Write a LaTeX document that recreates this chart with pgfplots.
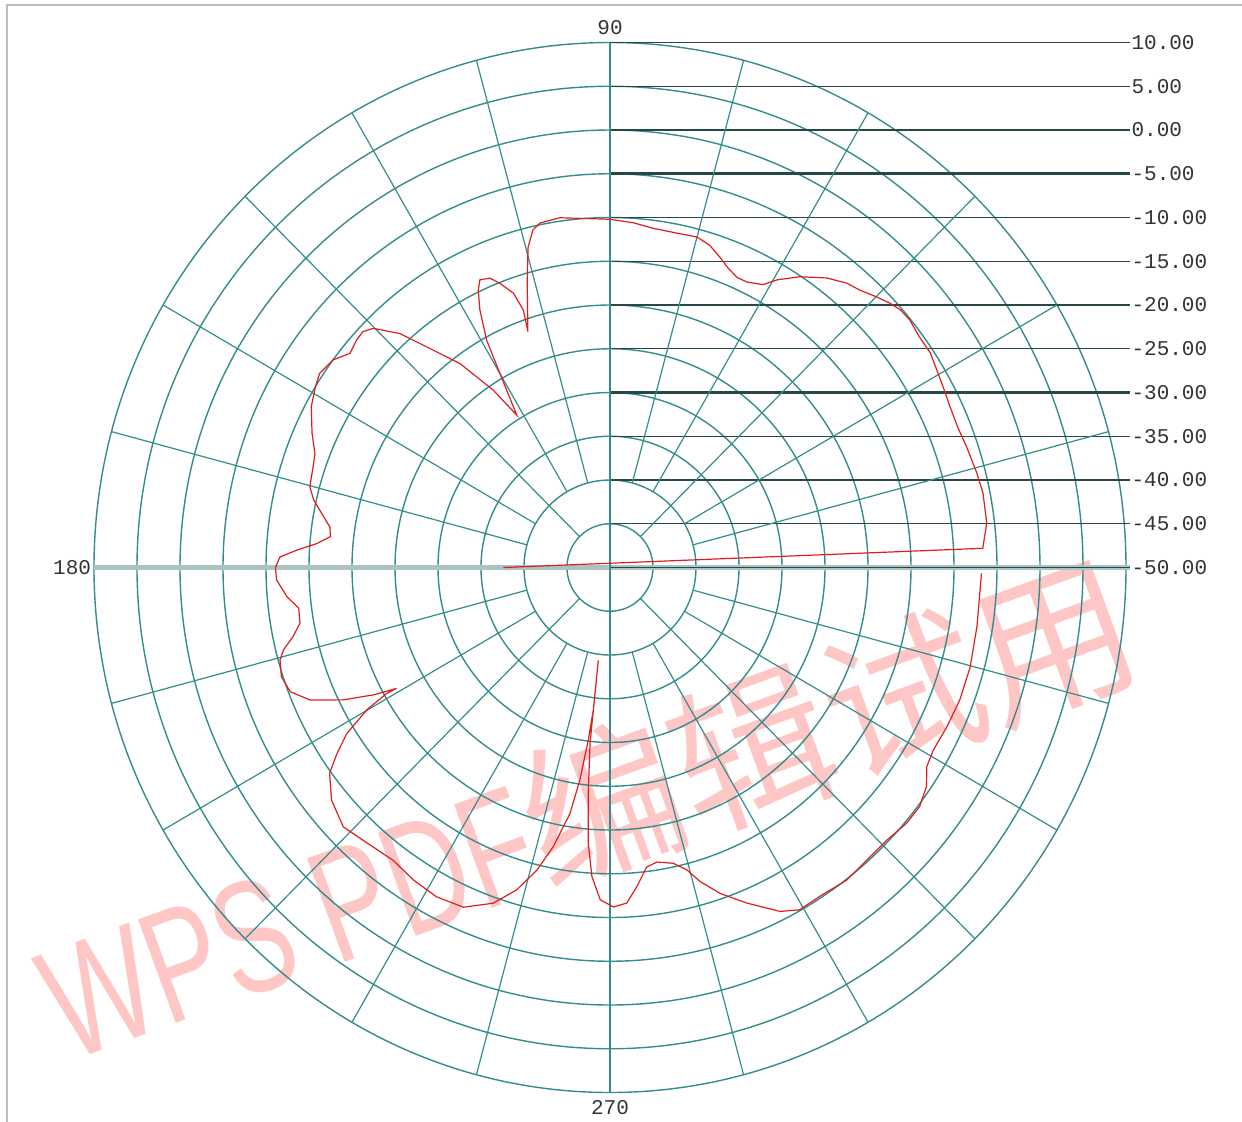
\documentclass[border=0pt]{standalone}
\usepackage{pgfplots}
\pgfplotsset{compat=1.18}
\usepackage{pgfplotstable}
\usepackage{graphicx}
\usepackage{fontspec}
\setmainfont{Liberation Sans}
\newfontfamily\cjk{Noto Sans CJK SC}
\newfontfamily\lblfont{Liberation Mono}
\protected\def\lf{\lblfont\fontsize{10.5bp}{12bp}\selectfont}
\protected\def\wmfont{\fontsize{80bp}{80bp}\selectfont}

\definecolor{gridc}{RGB}{52,140,140}
\definecolor{refc}{RGB}{40,72,72}
\definecolor{axc}{RGB}{170,196,196}
\definecolor{curvec}{RGB}{222,30,30}
\definecolor{wm}{RGB}{255,198,198}
\definecolor{framec}{RGB}{190,190,190}

\tikzset{
  lbl/.style={anchor=west, inner sep=0pt, text=black!80, font=\lf},
  lvl/.style={refc, line width=0.6bp},
}

% pattern: angle (deg), level (dB)
\pgfplotstableread{
angle dB
180.0 -37.6
2.9 -6.6
6.6 -5.9
11.1 -5.8
14.2 -6.0
18.4 -6.3
21.6 -6.5
24.9 -6.4
28.1 -6.1
30.7 -5.8
33.4 -5.4
36.2 -5.4
39.1 -5.1
41.1 -5.2
42.9 -5.6
44.9 -6.2
47.5 -7.0
49.7 -7.4
52.7 -8.4
56.4 -10.1
59.4 -11.8
61.2 -13.1
64.0 -13.7
66.0 -13.7
68.2 -13.1
70.2 -12.3
72.5 -11.4
75.0 -10.9
78.5 -11.0
82.7 -10.9
86.1 -10.5
90.0 -10.2
98.3 -9.6
101.7 -9.8
103.1 -10.4
104.6 -12.2
106.5 -16.1
109.5 -21.4
108.9 -18.9
109.7 -16.7
111.5 -15.1
112.9 -14.1
114.7 -13.8
115.8 -14.8
117.2 -16.9
118.9 -20.3
120.0 -24.4
121.9 -29.5
123.8 -25.6
126.8 -20.9
130.2 -17.0
132.4 -13.8
135.2 -11.2
136.8 -10.6
138.6 -10.7
141.0 -11.1
143.6 -10.0
146.7 -9.6
148.9 -10.0
152.1 -10.7
156.1 -12.1
159.2 -13.3
161.5 -13.6
165.2 -13.9
167.4 -14.7
170.1 -16.2
171.9 -17.1
173.8 -17.3
175.4 -15.8
176.9 -13.5
178.2 -11.6
180.0 -11.1
182.1 -11.2
185.1 -12.3
187.3 -13.5
190.0 -13.4
192.1 -12.3
193.9 -10.9
195.4 -10.2
198.1 -9.8
200.9 -10.2
203.5 -12.0
206.0 -15.5
207.9 -18.9
209.1 -21.6
209.0 -20.3
209.9 -17.4
211.8 -14.0
213.8 -11.8
215.8 -9.8
219.4 -8.1
223.7 -7.1
228.1 -7.7
233.0 -8.1
237.4 -7.6
241.8 -7.3
246.3 -7.6
250.5 -9.3
253.6 -11.6
256.2 -14.4
258.3 -17.4
260.6 -21.5
261.8 -25.5
262.7 -30.1
263.2 -33.6
262.7 -39.3
263.1 -35.6
263.4 -29.8
264.4 -24.1
265.4 -18.4
266.6 -14.6
268.3 -12.0
270.6 -11.2
272.9 -11.6
274.9 -13.4
277.1 -15.5
279.2 -15.9
282.3 -15.4
284.5 -14.3
286.3 -12.6
289.0 -10.6
292.5 -8.5
296.7 -6.0
299.4 -5.1
303.0 -5.2
307.6 -4.9
313.2 -5.2
315.9 -5.2
319.7 -4.8
322.8 -4.8
325.8 -5.5
328.3 -6.7
331.0 -7.0
335.1 -6.8
339.6 -6.6
344.8 -6.6
351.0 -6.8
356.1 -6.9
359.1 -6.8
}\patterndata

\begin{document}
\begin{tikzpicture}
\begin{axis}[
    x=4.3bp, y=4.375bp,
    xmin=-70.93, xmax=73.49,
    ymin=-63.37, ymax=64.86,
    hide axis, clip=false,
]
% watermark
\node[text=wm, rotate=20, inner sep=0pt, font=\wmfont]
    at (axis cs:-2.6,-27.6) {\scalebox{0.7}[1]{WPS PDF}{\cjk 编辑试用}};

% frame
\draw[framec, line width=1bp] (axis cs:-70.12,-63.37) -- (axis cs:-70.12,64.29) -- (axis cs:73.49,64.29);

% labels
\node[lbl] at (axis cs:60.6,60) {10.00};
\node[lbl] at (axis cs:60.6,55) {5.00};
\node[lbl] at (axis cs:60.6,50) {0.00};
\node[lbl] at (axis cs:60.6,45) {-5.00};
\node[lbl] at (axis cs:60.6,40) {-10.00};
\node[lbl] at (axis cs:60.6,35) {-15.00};
\node[lbl] at (axis cs:60.6,30) {-20.00};
\node[lbl] at (axis cs:60.6,25) {-25.00};
\node[lbl] at (axis cs:60.6,20) {-30.00};
\node[lbl] at (axis cs:60.6,15) {-35.00};
\node[lbl] at (axis cs:60.6,10) {-40.00};
\node[lbl] at (axis cs:60.6,5) {-45.00};
\node[lbl] at (axis cs:60.6,0) {-50.00};
\node[lbl, anchor=south] at (axis cs:0,60.9) {90};
\node[lbl, anchor=east] at (axis cs:-60.3,0) {180};
\node[lbl, anchor=north] at (axis cs:0,-60.9) {270};

% rings
\draw[gridc, line width=0.7bp] (axis cs:0,0) ellipse [x radius=5, y radius=5];
\draw[gridc, line width=0.7bp] (axis cs:0,0) ellipse [x radius=10, y radius=10];
\draw[gridc, line width=0.7bp] (axis cs:0,0) ellipse [x radius=15, y radius=15];
\draw[gridc, line width=0.7bp] (axis cs:0,0) ellipse [x radius=20, y radius=20];
\draw[gridc, line width=0.7bp] (axis cs:0,0) ellipse [x radius=25, y radius=25];
\draw[gridc, line width=0.7bp] (axis cs:0,0) ellipse [x radius=30, y radius=30];
\draw[gridc, line width=0.7bp] (axis cs:0,0) ellipse [x radius=35, y radius=35];
\draw[gridc, line width=0.7bp] (axis cs:0,0) ellipse [x radius=40, y radius=40];
\draw[gridc, line width=0.7bp] (axis cs:0,0) ellipse [x radius=45, y radius=45];
\draw[gridc, line width=0.7bp] (axis cs:0,0) ellipse [x radius=50, y radius=50];
\draw[gridc, line width=0.7bp] (axis cs:0,0) ellipse [x radius=55, y radius=55];
\draw[gridc, line width=0.7bp] (axis cs:0,0) ellipse [x radius=60, y radius=60];

% level lines
\draw[lvl] (axis cs:0,60) -- (axis cs:60.5,60);
\draw[lvl] (axis cs:0,55) -- (axis cs:60.5,55);
\draw[lvl] (axis cs:0,50) -- (axis cs:60.5,50);
\draw[lvl, line width=1.3bp] (axis cs:0,45) -- (axis cs:60.5,45);
\draw[lvl] (axis cs:0,40) -- (axis cs:60.5,40);
\draw[lvl] (axis cs:0,35) -- (axis cs:60.5,35);
\draw[lvl] (axis cs:0,30) -- (axis cs:60.5,30);
\draw[lvl] (axis cs:0,25) -- (axis cs:60.5,25);
\draw[lvl, line width=1.3bp] (axis cs:0,20) -- (axis cs:60.5,20);
\draw[lvl] (axis cs:0,15) -- (axis cs:60.5,15);
\draw[lvl] (axis cs:0,10) -- (axis cs:60.5,10);
\draw[lvl] (axis cs:0,5) -- (axis cs:60.5,5);

% spokes
\pgfplotsinvokeforeach{45,135,225,315}{
  \addplot[gridc, line width=0.6bp, data cs=polar] coordinates {(#1,5) (#1,60)};
}
\pgfplotsinvokeforeach{15,30,60,75,105,120,150,165,195,210,240,255,285,300,330,345}{
  \addplot[gridc, line width=0.6bp, data cs=polar] coordinates {(#1,10) (#1,60)};
}
\addplot[axc, line width=2.5bp] coordinates {(-60,0) (60.5,0)};
\addplot[refc, line width=0.6bp] coordinates {(0,0) (60.5,0)};
\addplot[gridc, line width=0.6bp] coordinates {(0,-60) (0,60)};

% pattern
\addplot[curvec, line width=0.6bp, data cs=polar] table[x=angle, y expr=\thisrow{dB}+50] {\patterndata};

\coordinate (BL) at (axis cs:-70.93,-63.37);
\coordinate (TR) at (axis cs:73.49,64.86);
\end{axis}
\pgfresetboundingbox
\path[use as bounding box] (BL) rectangle (TR);
\end{tikzpicture}
\end{document}
